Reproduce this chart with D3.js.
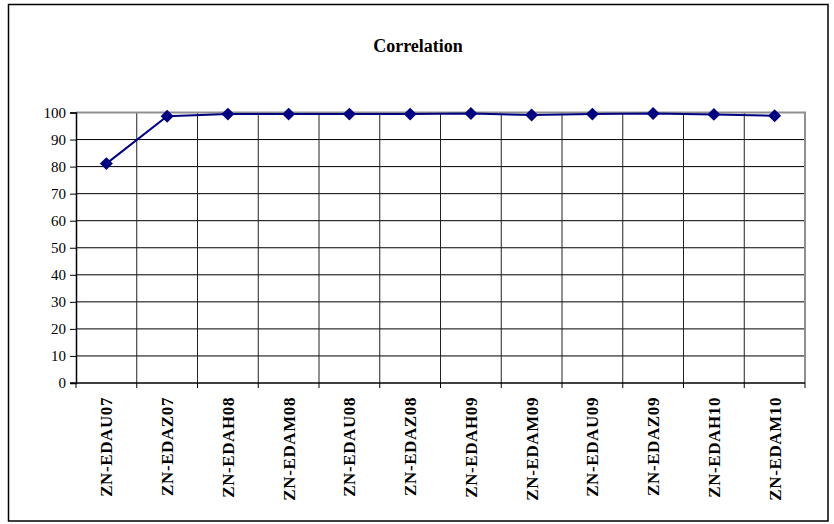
<!DOCTYPE html>
<html><head><meta charset="utf-8">
<script src="https://cdn.jsdelivr.net/npm/d3@7"></script>
<style>body{margin:0;background:#fff}svg{display:block}</style>
</head><body>
<script>
const categories = ["ZN-EDAU07","ZN-EDAZ07","ZN-EDAH08","ZN-EDAM08","ZN-EDAU08","ZN-EDAZ08","ZN-EDAH09","ZN-EDAM09","ZN-EDAU09","ZN-EDAZ09","ZN-EDAH10","ZN-EDAM10"];
const correlation = [81.1, 98.6, 99.4, 99.4, 99.4, 99.4, 99.6, 99.1, 99.4, 99.6, 99.3, 98.8];
const yTicks = [0,10,20,30,40,50,60,70,80,90,100];
const title = "Correlation";

const W = 834, H = 524;
const svg = d3.select("body").append("svg").attr("width", W).attr("height", H);
svg.append("rect").attr("x", 8.5).attr("y", 4.5).attr("width", 819.5).attr("height", 516.5)
  .attr("fill", "#fff").attr("stroke", "#000").attr("stroke-width", 1.5);

const m = {left: 76, right: 805, top: 112.5, bottom: 383};
const x = d3.scaleBand().domain(categories).range([m.left, m.right]).padding(0);
const y = d3.scaleLinear().domain([0, 100]).range([m.bottom, m.top]);

svg.append("text").attr("x", 418).attr("y", 52).attr("text-anchor", "middle")
  .attr("font-family", "'Liberation Serif', serif").attr("font-weight", "bold").attr("font-size", 18)
  .text(title);

const g = svg.append("g");
g.selectAll("line.hg").data(yTicks.filter(t => t > 0 && t < 100)).join("line")
  .attr("x1", m.left).attr("x2", m.right).attr("y1", d => y(d)).attr("y2", d => y(d))
  .attr("stroke", "#000").attr("stroke-width", 1);
g.selectAll("line.vg").data(categories.slice(1)).join("line")
  .attr("x1", d => x(d)).attr("x2", d => x(d)).attr("y1", m.top).attr("y2", m.bottom)
  .attr("stroke", "#222").attr("stroke-width", 1);
g.append("path").attr("d", `M${m.left},${y(100)}H${m.right}V${m.bottom}`)
  .attr("fill", "none").attr("stroke", "#909090").attr("stroke-width", 2);

const yAxis = d3.axisLeft(y).tickValues(yTicks).tickSize(6).tickPadding(4);
const ya = svg.append("g").attr("transform", `translate(${m.left},0)`).call(yAxis);
ya.select(".domain").attr("stroke", "#000").attr("stroke-width", 1.5);
ya.selectAll(".tick line").attr("stroke", "#000");
ya.selectAll("text").attr("font-family", "'Liberation Serif', serif").attr("font-size", 15).attr("fill", "#000");

const xa = svg.append("g").attr("transform", `translate(0,${m.bottom})`);
xa.append("line").attr("x1", m.left - 6).attr("x2", m.right).attr("y1", 0).attr("y2", 0)
  .attr("stroke", "#000").attr("stroke-width", 1.5);
const bounds = categories.map(d => x(d)).concat([m.right]);
xa.selectAll("line.xt").data(bounds).join("line")
  .attr("x1", d => d).attr("x2", d => d)
  .attr("y1", 0).attr("y2", 5).attr("stroke", "#000");
xa.selectAll("text").data(categories).join("text")
  .attr("transform", d => `translate(${x(d) + x.bandwidth()/2 + 6},14) rotate(-90)`)
  .attr("text-anchor", "end")
  .attr("font-family", "'Liberation Serif', serif").attr("font-weight", "bold").attr("font-size", 17)
  .attr("letter-spacing", 0.6)
  .attr("fill", "#000")
  .text(d => d);

const line = d3.line().x((d, i) => x(categories[i]) + x.bandwidth()/2).y(d => y(d));
svg.append("path").datum(correlation).attr("d", line)
  .attr("fill", "none").attr("stroke", "#000080").attr("stroke-width", 2);
svg.selectAll("path.mk").data(correlation).join("path")
  .attr("d", d3.symbol().type(d3.symbolSquare).size(84))
  .attr("transform", (d, i) => `translate(${x(categories[i]) + x.bandwidth()/2},${y(d)}) rotate(45)`)
  .attr("fill", "#000080");
</script>
</body></html>
